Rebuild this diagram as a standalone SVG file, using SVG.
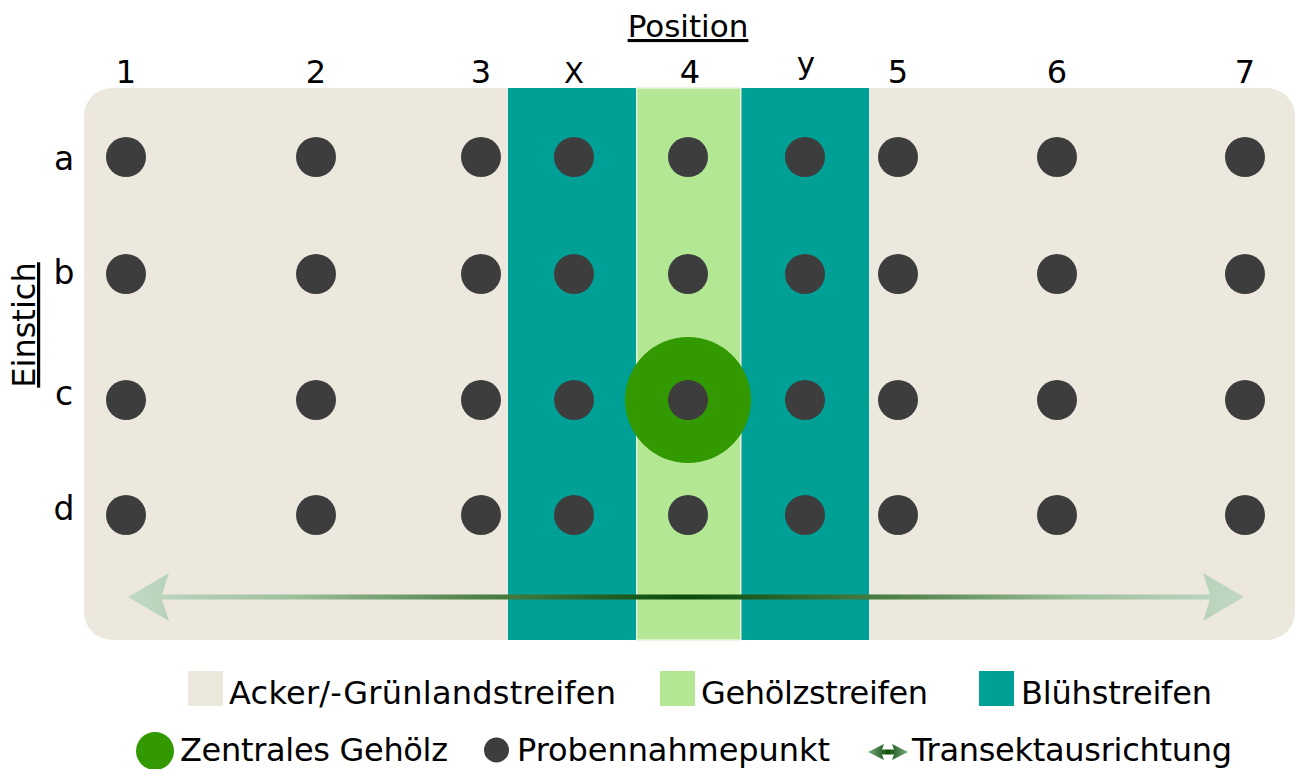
<svg xmlns="http://www.w3.org/2000/svg" width="1296" height="769" viewBox="0 0 1296 769">
  <style>
    text { font-family: "DejaVu Sans", Verdana, sans-serif; fill: #000000; }
    .lbl { font-size: 32px; text-anchor: middle; }
    .row { font-size: 33px; text-anchor: middle; }
    .leg { font-size: 32px; }
    .dot { fill: #3d3d3d; }
    .field { fill: #ece8dd; }
    .bluh { fill: #00a096; }
    .geh { fill: #b3e794; }
  </style>
  <defs>
    <linearGradient id="transGrad" gradientUnits="userSpaceOnUse" x1="128" y1="0" x2="1244" y2="0">
      <stop offset="0" stop-color="#c2d9c4"/>
      <stop offset="0.15" stop-color="#9cbf9c"/>
      <stop offset="0.31" stop-color="#4f8249"/>
      <stop offset="0.5" stop-color="#094a0a"/>
      <stop offset="0.69" stop-color="#4f8249"/>
      <stop offset="0.85" stop-color="#9cbf9c"/>
      <stop offset="1" stop-color="#c2d9c4"/>
    </linearGradient>
    <linearGradient id="legGrad" gradientUnits="userSpaceOnUse" x1="868" y1="0" x2="908" y2="0">
      <stop offset="0" stop-color="#82ad82"/>
      <stop offset="0.5" stop-color="#0a4d0a"/>
      <stop offset="1" stop-color="#82ad82"/>
    </linearGradient>
  </defs>

  <g id="background">
    <rect class="field" x="84" y="88" width="1211" height="552" rx="28" ry="28"/>
  </g>

  <g id="strips">
    <rect id="bluehstreifen-x" class="bluh" x="508" y="88" width="128" height="552"/>
    <rect id="gehoelzstreifen" class="geh" x="636.75" y="88" width="104" height="552" stroke="#e4f3dc" stroke-width="1.5"/>
    <rect id="bluehstreifen-y" class="bluh" x="741.5" y="88" width="127.5" height="552"/>
  </g>

  <g id="zentrales-gehoelz">
    <circle cx="688" cy="400" r="63" fill="#339900"/>
  </g>

  <g id="points">
    <g id="row-a">
      <circle class="dot" cx="126" cy="157" r="20"/>
      <circle class="dot" cx="316" cy="157" r="20"/>
      <circle class="dot" cx="481" cy="157" r="20"/>
      <circle class="dot" cx="574" cy="157" r="20"/>
      <circle class="dot" cx="688" cy="157" r="20"/>
      <circle class="dot" cx="805" cy="157" r="20"/>
      <circle class="dot" cx="898" cy="157" r="20"/>
      <circle class="dot" cx="1057" cy="157" r="20"/>
      <circle class="dot" cx="1245" cy="157" r="20"/>
    </g>
    <g id="row-b">
      <circle class="dot" cx="126" cy="274" r="20"/>
      <circle class="dot" cx="316" cy="274" r="20"/>
      <circle class="dot" cx="481" cy="274" r="20"/>
      <circle class="dot" cx="574" cy="274" r="20"/>
      <circle class="dot" cx="688" cy="274" r="20"/>
      <circle class="dot" cx="805" cy="274" r="20"/>
      <circle class="dot" cx="898" cy="274" r="20"/>
      <circle class="dot" cx="1057" cy="274" r="20"/>
      <circle class="dot" cx="1245" cy="274" r="20"/>
    </g>
    <g id="row-c">
      <circle class="dot" cx="126" cy="400" r="20"/>
      <circle class="dot" cx="316" cy="400" r="20"/>
      <circle class="dot" cx="481" cy="400" r="20"/>
      <circle class="dot" cx="574" cy="400" r="20"/>
      <circle class="dot" cx="688" cy="400" r="20"/>
      <circle class="dot" cx="805" cy="400" r="20"/>
      <circle class="dot" cx="898" cy="400" r="20"/>
      <circle class="dot" cx="1057" cy="400" r="20"/>
      <circle class="dot" cx="1245" cy="400" r="20"/>
    </g>
    <g id="row-d">
      <circle class="dot" cx="126" cy="515" r="20"/>
      <circle class="dot" cx="316" cy="515" r="20"/>
      <circle class="dot" cx="481" cy="515" r="20"/>
      <circle class="dot" cx="574" cy="515" r="20"/>
      <circle class="dot" cx="688" cy="515" r="20"/>
      <circle class="dot" cx="805" cy="515" r="20"/>
      <circle class="dot" cx="898" cy="515" r="20"/>
      <circle class="dot" cx="1057" cy="515" r="20"/>
      <circle class="dot" cx="1245" cy="515" r="20"/>
    </g>
  </g>

  <g id="connectors">
    <path id="transekt" fill="url(#transGrad)" d="M128,597 L169,573 L162,594.5 L1210,594.5 L1203,573 L1244,597 L1203,621 L1210,599.5 L162,599.5 L169,621 Z"/>
  </g>

  <g id="axis-labels">
    <text x="688" y="37" font-size="31" text-anchor="middle" text-decoration="underline">Position</text>
    <text class="lbl" x="126" y="83">1</text>
    <text class="lbl" x="316" y="83">2</text>
    <text class="lbl" x="481" y="83">3</text>
    <text class="lbl" x="574" y="83" style="font-size:29px">X</text>
    <text class="lbl" x="690" y="83">4</text>
    <text class="lbl" x="806" y="74" style="font-size:31px">y</text>
    <text class="lbl" x="898" y="83">5</text>
    <text class="lbl" x="1057" y="83">6</text>
    <text class="lbl" x="1245" y="83">7</text>
    <text transform="translate(35,325) rotate(-90)" font-size="32" text-anchor="middle" text-decoration="underline">Einstich</text>
    <text class="row" x="64" y="170">a</text>
    <text class="row" x="64" y="284">b</text>
    <text class="row" x="64" y="405">c</text>
    <text class="row" x="64" y="520">d</text>
  </g>

  <g id="legend">
    <g id="legend-acker">
      <rect class="field" x="188" y="671" width="35" height="35"/>
      <text class="leg" x="229" y="704" textLength="387">Acker/-Grünlandstreifen</text>
    </g>
    <g id="legend-gehoelzstreifen">
      <rect class="geh" x="660" y="671" width="35" height="35"/>
      <text class="leg" x="701" y="704" textLength="227">Gehölzstreifen</text>
    </g>
    <g id="legend-bluehstreifen">
      <rect class="bluh" x="979" y="671" width="35" height="35"/>
      <text class="leg" x="1021" y="704" textLength="191">Blühstreifen</text>
    </g>
    <g id="legend-zentral">
      <circle cx="155" cy="751" r="19" fill="#339900"/>
      <text class="leg" x="180" y="761" textLength="268">Zentrales Gehölz</text>
    </g>
    <g id="legend-probe">
      <circle class="dot" cx="496.5" cy="750" r="12.5"/>
      <text class="leg" x="517" y="761" textLength="313">Probennahmepunkt</text>
    </g>
    <g id="legend-transekt">
      <path fill="url(#legGrad)" d="M868,752 L884,744 L882,749.5 L894,749.5 L892,744 L908,752 L892,760 L894,754.5 L882,754.5 L884,760 Z"/>
      <text class="leg" x="912" y="761" textLength="320">Transektausrichtung</text>
    </g>
  </g>
</svg>
